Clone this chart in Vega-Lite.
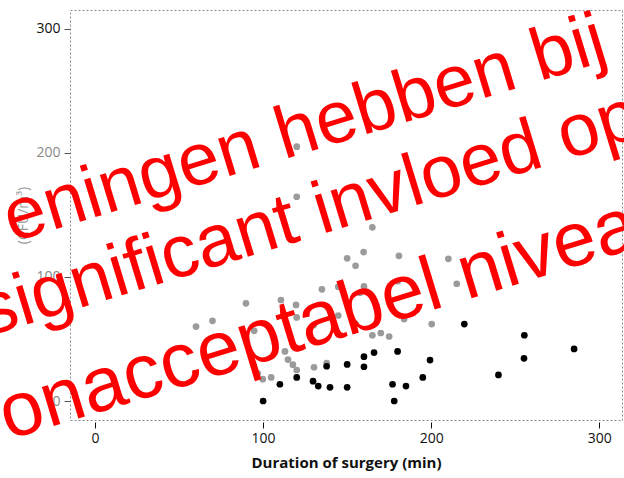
{
  "$schema": "https://vega.github.io/schema/vega-lite/v6.json",
  "autosize": {"type": "none"},
  "padding": {"left": 70, "top": 10, "right": 2, "bottom": 58},
  "width": 552,
  "height": 410,
  "background": "white",
  "datasets": {
    "points": [
      {"dur": 120, "cfu": 205, "group": "gray"},
      {"dur": 120, "cfu": 164.6, "group": "gray"},
      {"dur": 165, "cfu": 140, "group": "gray"},
      {"dur": 150, "cfu": 115, "group": "gray"},
      {"dur": 159.8, "cfu": 120, "group": "gray"},
      {"dur": 155, "cfu": 109, "group": "gray"},
      {"dur": 180.8, "cfu": 117, "group": "gray"},
      {"dur": 210.2, "cfu": 114.6, "group": "gray"},
      {"dur": 135, "cfu": 90, "group": "gray"},
      {"dur": 144.7, "cfu": 92, "group": "gray"},
      {"dur": 157.6, "cfu": 87.3, "group": "gray"},
      {"dur": 160, "cfu": 92.3, "group": "gray"},
      {"dur": 180.1, "cfu": 96.5, "group": "gray"},
      {"dur": 215.2, "cfu": 94.5, "group": "gray"},
      {"dur": 130.1, "cfu": 61.2, "group": "gray"},
      {"dur": 144.7, "cfu": 68.9, "group": "gray"},
      {"dur": 154.9, "cfu": 62.4, "group": "gray"},
      {"dur": 183.9, "cfu": 66, "group": "gray"},
      {"dur": 200.3, "cfu": 62, "group": "gray"},
      {"dur": 165, "cfu": 53, "group": "gray"},
      {"dur": 170, "cfu": 54.8, "group": "gray"},
      {"dur": 175, "cfu": 52, "group": "gray"},
      {"dur": 130.3, "cfu": 27.2, "group": "gray"},
      {"dur": 137.8, "cfu": 30.5, "group": "gray"},
      {"dur": 89.8, "cfu": 78.7, "group": "gray"},
      {"dur": 69.9, "cfu": 64.6, "group": "gray"},
      {"dur": 60.1, "cfu": 60, "group": "gray"},
      {"dur": 94.7, "cfu": 56.6, "group": "gray"},
      {"dur": 110.6, "cfu": 81.4, "group": "gray"},
      {"dur": 119.6, "cfu": 77.4, "group": "gray"},
      {"dur": 120, "cfu": 67.4, "group": "gray"},
      {"dur": 113, "cfu": 40, "group": "gray"},
      {"dur": 114.8, "cfu": 33.4, "group": "gray"},
      {"dur": 117.7, "cfu": 29.3, "group": "gray"},
      {"dur": 120, "cfu": 25, "group": "gray"},
      {"dur": 96.8, "cfu": 22.3, "group": "gray"},
      {"dur": 99.8, "cfu": 17.6, "group": "gray"},
      {"dur": 104.8, "cfu": 19, "group": "gray"},
      {"dur": 100, "cfu": 0, "group": "black"},
      {"dur": 110, "cfu": 13.5, "group": "black"},
      {"dur": 120, "cfu": 19, "group": "black"},
      {"dur": 129.7, "cfu": 16, "group": "black"},
      {"dur": 132.8, "cfu": 12, "group": "black"},
      {"dur": 139.8, "cfu": 11, "group": "black"},
      {"dur": 137.8, "cfu": 28, "group": "black"},
      {"dur": 150, "cfu": 29.5, "group": "black"},
      {"dur": 150, "cfu": 11, "group": "black"},
      {"dur": 160, "cfu": 35.7, "group": "black"},
      {"dur": 160, "cfu": 27.6, "group": "black"},
      {"dur": 166, "cfu": 39, "group": "black"},
      {"dur": 180, "cfu": 40, "group": "black"},
      {"dur": 177, "cfu": 13.5, "group": "black"},
      {"dur": 178, "cfu": 0, "group": "black"},
      {"dur": 185, "cfu": 12, "group": "black"},
      {"dur": 195, "cfu": 19, "group": "black"},
      {"dur": 199.3, "cfu": 33, "group": "black"},
      {"dur": 219.7, "cfu": 62, "group": "black"},
      {"dur": 240, "cfu": 21, "group": "black"},
      {"dur": 255.4, "cfu": 53, "group": "black"},
      {"dur": 255.2, "cfu": 34.4, "group": "black"},
      {"dur": 285, "cfu": 42, "group": "black"}
    ],
    "overlay": [
      {"line": 1, "text": "eningen hebben bij", "x": -49.3, "y": 127.7},
      {"line": 2, "text": "significant invloed op", "x": -64.1, "y": 52},
      {"line": 3, "text": "onacceptabel niveau", "x": -51.8, "y": -31.4}
    ]
  },
  "layer": [
    {
      "data": {"name": "points"},
      "mark": {"type": "circle", "size": 45, "opacity": 1},
      "encoding": {
        "x": {
          "field": "dur", "type": "quantitative",
          "scale": {"domain": [-14.87, 313.5], "nice": false, "zero": false},
          "axis": {
            "values": [0, 100, 200, 300],
            "title": "Duration of surgery (min)",
            "domain": false, "grid": false,
            "tickColor": "#111", "tickSize": 6, "offset": 2,
            "labelFont": "Open Sans", "labelFontSize": 14, "labelColor": "#111", "labelPadding": 3,
            "titleFont": "Open Sans", "titleFontSize": 15, "titleFontWeight": "bold", "titleColor": "#111", "titlePadding": 10
          }
        },
        "y": {
          "field": "cfu", "type": "quantitative",
          "scale": {"domain": [-15.3, 315.1], "nice": false, "zero": false},
          "axis": {
            "values": [0, 100, 200, 300],
            "title": "(CFU/m³)",
            "domain": false, "grid": false,
            "tickColor": "#555", "tickSize": 6,
            "labelFont": "Open Sans", "labelFontSize": 14, "labelPadding": 4,
            "labelColor": {"condition": {"test": "datum.value == 300", "value": "#111"}, "value": "#888"},
            "titleFont": "Open Sans", "titleFontSize": 14, "titleFontWeight": "normal", "titleColor": "#999", "titlePadding": 5
          }
        },
        "color": {
          "field": "group", "type": "nominal",
          "scale": {"domain": ["gray", "black"], "range": ["#9b9b9b", "#000000"]},
          "legend": null
        }
      }
    },
    {
      "data": {"name": "overlay"},
      "transform": [{"filter": "datum.line < 3"}],
      "mark": {"type": "text", "font": "Liberation Sans", "fontSize": 74, "color": "#ff0000", "angle": -17, "align": "left", "baseline": "alphabetic", "clip": false},
      "encoding": {
        "x": {"field": "x", "type": "quantitative"},
        "y": {"field": "y", "type": "quantitative"},
        "text": {"field": "text", "type": "nominal"}
      }
    },
    {
      "data": {"name": "overlay"},
      "transform": [{"filter": "datum.line == 3"}],
      "mark": {"type": "text", "font": "Liberation Sans", "fontSize": 77, "color": "#ff0000", "angle": -17, "align": "left", "baseline": "alphabetic", "clip": false},
      "encoding": {
        "x": {"field": "x", "type": "quantitative"},
        "y": {"field": "y", "type": "quantitative"},
        "text": {"field": "text", "type": "nominal"}
      }
    }
  ],
  "config": {
    "view": {"stroke": "#8a8a8a", "strokeDash": [2, 2], "strokeWidth": 1}
  }
}
